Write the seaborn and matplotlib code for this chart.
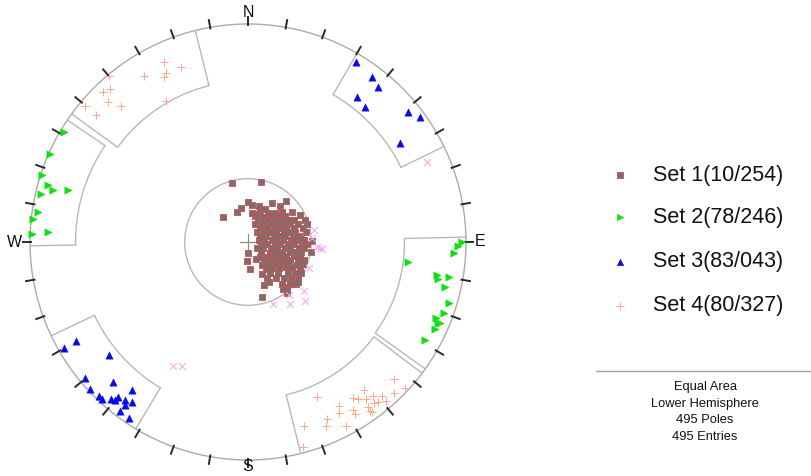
import numpy as np
import pandas as pd
import matplotlib
matplotlib.use("Agg")
import matplotlib.pyplot as plt
import seaborn as sns

sns.set_theme(style="white")
plt.rcParams['font.family'] = ['Liberation Sans', 'DejaVu Sans']

# ---------------- data (poles: trend / plunge in degrees) ----------------
set1_trend = [22, 34, 43, 48, 56, 15, 32, 43, 49, 55, 63, 24, 41, 51, 57, 61, 64, 69,
              21, 38, 51, 58, 63, 67, 70, 38, 52, 62, 66, 70, 73, 76,
              42, 56, 65, 70, 74, 76, 78, 80, 63, 72, 76, 79, 81, 82, 83,
              79, 83, 85, 86, 87, 87, 88, 88, 99, 96, 94, 93, 93, 92, 92, 92,
              124, 111, 104, 101, 99, 98, 97, 96, 126, 116, 110, 106, 104, 102, 101, 99,
              142, 128, 119, 114, 110, 107, 105, 156, 138, 128, 122, 117, 113, 110, 108,
              149, 138, 129, 123, 119, 115, 112, 147, 137, 130, 124, 120, 117,
              156, 145, 136, 128, 123, 120, 152, 142, 135, 130, 126, 152, 141, 135, 131,
              143, 140, 143,
              345, 12, 315, 0, 349, 340, 6, 32, 43, 27, 17, 73, 87, 89, 180, 183, 176,
              160, 166, 141, 129, 8, 17, 42]
set1_plunge = [78, 77, 75, 73, 70, 80, 79, 77, 75, 73, 68, 81, 79, 77, 75, 73, 71, 67,
               83, 81, 79, 77, 75, 73, 70, 83, 81, 79, 77, 75, 72, 69,
               85, 83, 81, 79, 76, 74, 72, 68, 85, 83, 80, 78, 76, 73, 71,
               86, 84, 81, 79, 77, 74, 72, 69, 85, 83, 80, 78, 75, 73, 70, 68,
               86, 84, 81, 79, 76, 74, 71, 69, 84, 81, 79, 77, 74, 72, 70, 66,
               83, 81, 79, 77, 75, 72, 70, 83, 81, 79, 77, 75, 73, 70, 68,
               80, 79, 77, 75, 73, 70, 68, 78, 77, 75, 73, 71, 68,
               77, 76, 74, 71, 69, 67, 75, 73, 71, 69, 67, 73, 70, 68, 66,
               68, 68, 66,
               67, 67, 77, 75, 77, 78, 76, 73, 69, 76, 79, 67, 70, 66, 86, 83, 80,
               73, 69, 67, 66, 79, 76, 72]

set2_trend = [91, 90, 93, 97, 100, 101, 100, 103, 107, 110, 112, 113, 113, 115, 119,
              301, 294, 288, 286, 285, 286, 283, 278, 276, 273, 272]
set2_plunge = [4, 2, 6, 27, 13, 12, 7, 8, 4, 5, 8, 6, 5, 6, 8,
               2, 0.5, 1, 5, 8, 15, 3, 3, 1, 9, 1]

set3_trend = [31, 37, 40, 37, 41, 51, 54, 57,
              240, 240, 231, 230, 224, 227, 224, 223, 218, 220, 220, 221, 218, 216, 217, 217, 214]
set3_plunge = [4, 6, 8, 18, 19, 6, 3, 18,
               10, 3, 19, 3, 12, 1, 2, 2, 15, 8, 6, 5, 9, 10, 7, 3, 3]

set4_trend = [310, 310, 316, 318, 315, 320, 317, 328, 335, 334, 333, 339, 330,
              133, 133, 136, 142, 141, 139, 139, 146, 145, 143, 142, 141, 156, 151, 148,
              148, 144, 144, 144, 152, 156, 157, 152, 163, 165]
set4_plunge = [3, 10, 5, 6, 10, 1, 16, 11, 10, 15, 16, 15, 26,
               9, 2, 4, 15, 10, 7, 4, 15, 13, 11, 7, 6, 23, 15, 10,
               8, 7, 5, 4, 12, 12, 9, 5, 13, 3]

other_trend = [80, 94, 95, 95, 86, 113, 131, 136, 142, 146, 158, 211, 208, 66]
other_plunge = [65, 64, 63, 62, 66, 65, 62, 59, 65, 62, 65, 34, 36, 11]

# set windows: trend range and maximum plunge (outer edge at plunge 0)
win_trend_start = [88.7, 269, 30, 211, 306, 127]
win_trend_end = [125.6, 304, 64, 244.5, 346, 166]
win_plunge_max = [29, 22, 23, 23, 27, 28.5]
set1_window_plunge = 66.3

set_labels = ["Set 1(10/254)", "Set 2(78/246)", "Set 3(83/043)", "Set 4(80/327)"]
info_lines = ["Equal Area", "Lower Hemisphere", "495 Poles", "495 Entries"]
direction_labels = ["N", "E", "S", "W"]


def radius(plunge):
    p = np.radians(np.asarray(plunge, dtype=float))
    return np.sqrt(2) * np.sin((np.pi / 2 - p) / 2)


def project(trend, plunge):
    t = np.radians(np.asarray(trend, dtype=float))
    r = radius(plunge)
    return r * np.sin(t), r * np.cos(t)


frames = []
for name, tr, pl in [("Set 1", set1_trend, set1_plunge), ("Set 2", set2_trend, set2_plunge),
                     ("Set 3", set3_trend, set3_plunge), ("Set 4", set4_trend, set4_plunge),
                     ("Other", other_trend, other_plunge)]:
    x, y = project(tr, pl)
    frames.append(pd.DataFrame({"x": x, "y": y, "set": name}))
df = pd.concat(frames, ignore_index=True)

W, H = 811, 476
fig = plt.figure(figsize=(W / 100, H / 100), dpi=100)
fig.patch.set_facecolor("white")

L = 234 / 218
ax = fig.add_axes([14 / W, 0, 468 / W, 468 / H])
ax.set_xlim(-L, L)
ax.set_ylim(-L, L)
ax.axis("off")

line_gray = "#b8b8b8"

# primitive circle
th = np.linspace(0, 2 * np.pi, 721)
ax.plot(np.sin(th), np.cos(th), color="#ababab", lw=1.0, zorder=1)

# ticks every 10 degrees
for a in range(0, 360, 10):
    ar = np.radians(a)
    ax.plot([0.99 * np.sin(ar), 1.038 * np.sin(ar)], [0.99 * np.cos(ar), 1.038 * np.cos(ar)],
            color="#2a2a2a", lw=1.4, solid_capstyle="butt", zorder=2)

# direction labels
for lab, a, rr in zip(direction_labels, [0, 90, 180, 270], [1.055, 1.066, 1.03, 1.069]):
    ar = np.radians(a)
    ax.text(rr * np.sin(ar), rr * np.cos(ar), lab, ha="center", va="center",
            fontsize=11.5, color="#111111")

# center cross
c = 0.035
ax.plot([-c, c], [0, 0], color="#8c8c8c", lw=0.9, zorder=2)
ax.plot([0, 0], [-c, c], color="#8c8c8c", lw=0.9, zorder=2)

# set 1 window (circle)
r1 = radius(set1_window_plunge)
ax.plot(r1 * np.sin(th), r1 * np.cos(th), color=line_gray, lw=1.0, zorder=1)

# annular windows
for t1, t2, pm in zip(win_trend_start, win_trend_end, win_plunge_max):
    rin = radius(pm)
    tt = np.radians(np.linspace(t1, t2, 80))
    ax.plot(rin * np.sin(tt), rin * np.cos(tt), color=line_gray, lw=1.0, zorder=1)
    for tv in (t1, t2):
        a = np.radians(tv)
        ax.plot([rin * np.sin(a), np.sin(a)], [rin * np.cos(a), np.cos(a)],
                color=line_gray, lw=1.0, zorder=1)

styles = {
    "Set 1": dict(marker="s", s=22, color="#777070", edgecolor="#d84c4c", linewidth=0.6),
    "Set 2": dict(marker=">", s=28, color="#10e010", edgecolor="#10e010", linewidth=0.3),
    "Set 3": dict(marker="^", s=28, color="#0a0ae8", edgecolor="#0a0ae8", linewidth=0.3),
    "Set 4": dict(marker="+", s=32, color="#ffa888", linewidth=0.7),
    "Other": dict(marker="x", s=24, color="#f4a6ee", linewidth=0.75),
}
for name, st in styles.items():
    sub = df[df["set"] == name]
    sns.scatterplot(data=sub, x="x", y="y", ax=ax, legend=False, zorder=3, **st)
ax.set_xlabel("")
ax.set_ylabel("")
ax.set_xlim(-L, L)
ax.set_ylim(-L, L)

# legend / info panel
lax = fig.add_axes([0, 0, 1, 1])
lax.set_xlim(0, W)
lax.set_ylim(H, 0)
lax.axis("off")
lax.patch.set_visible(False)
leg_y = [175, 217, 262, 306]
for name, lab, yy in zip(["Set 1", "Set 2", "Set 3", "Set 4"], set_labels, leg_y):
    st = dict(styles[name])
    st["s"] = st["s"] * 0.8
    lax.scatter([620], [yy], **st)
    lax.text(653, yy, lab, ha="left", va="center", fontsize=15.5, color="#111111")

lax.plot([596, W], [371, 371], color="#a0a0a0", lw=1.0)
for i, line in enumerate(info_lines):
    lax.text(705, 387 + i * 16.7, line, ha="center", va="center", fontsize=9.3, color="#111111")

fig.savefig("out.png", dpi=100, facecolor="white")
